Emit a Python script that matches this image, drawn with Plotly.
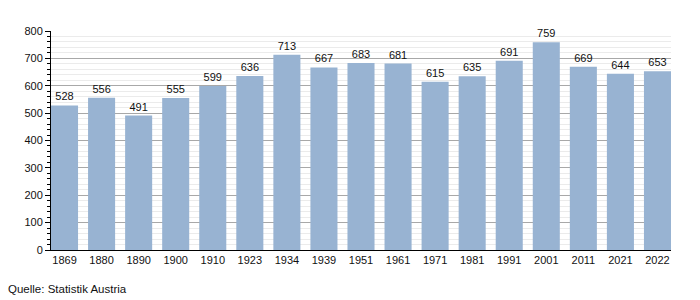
import plotly.graph_objects as go

years = ["1869", "1880", "1890", "1900", "1910", "1923", "1934", "1939", "1951",
         "1961", "1971", "1981", "1991", "2001", "2011", "2021", "2022"]
values = [528, 556, 491, 555, 599, 636, 713, 667, 683, 681, 615, 635, 691, 759, 669, 644, 653]

bar_color = "#98B3D2"
font_family = "Liberation Sans, Arial, sans-serif"

fig = go.Figure(go.Bar(
    x=years, y=values,
    marker=dict(color=bar_color, line=dict(width=0)),
    text=[str(v) for v in values],
    textposition="outside",
    textfont=dict(size=11, color="#111111", family=font_family),
    cliponaxis=False,
))

g = 0.27
fig.update_layout(
    width=700, height=300,
    margin=dict(l=51, r=29, t=31, b=50),
    paper_bgcolor="white", plot_bgcolor="white",
    bargap=g,
    showlegend=False,
    font=dict(family=font_family, size=11, color="#111111"),
    xaxis=dict(
        type="category",
        range=[-(1 - g) / 2, 16 + (1 - g) / 2],
        showline=True, linecolor="black", linewidth=1,
        ticks="", showgrid=False,
        tickfont=dict(size=11, color="#111111"),
    ),
    yaxis=dict(
        range=[0, 800], dtick=100,
        showline=True, linecolor="black", linewidth=1,
        ticks="outside", ticklen=5, tickcolor="black",
        showgrid=True, gridcolor="#a8a8a8", gridwidth=1,
        zeroline=False,
        tickfont=dict(size=11, color="#111111"),
        minor=dict(dtick=20, ticks="outside", ticklen=3, tickcolor="black",
                   showgrid=True, gridcolor="#ebebeb", gridwidth=1),
    ),
    annotations=[dict(
        text="Quelle: Statistik Austria", xref="paper", yref="paper",
        x=0, xanchor="left", y=0, yanchor="top", yshift=-31, xshift=-45,
        showarrow=False, font=dict(size=11.5, color="#111111", family=font_family),
    )],
)

fig.write_html("out.html")
